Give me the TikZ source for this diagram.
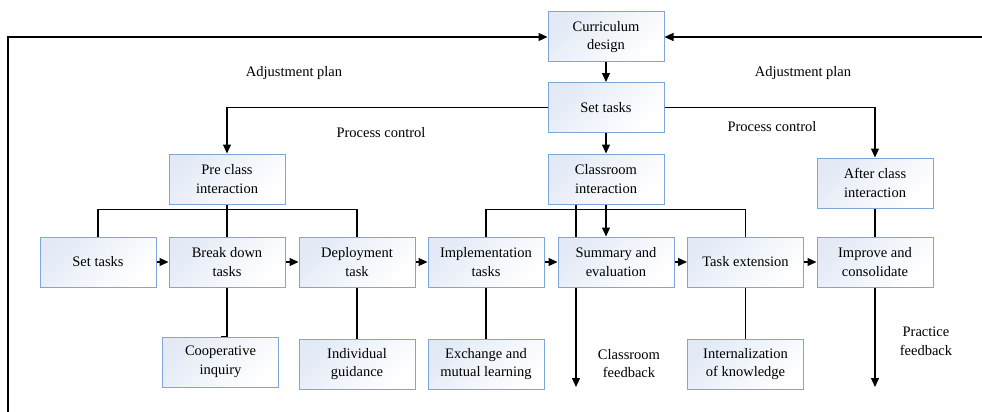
\documentclass[tikz,border=0pt]{standalone}
\usepackage{fontspec}
\setmainfont{Liberation Serif}
\usetikzlibrary{arrows.meta}
\definecolor{boxborder}{HTML}{7DA7D9}
\definecolor{boxblue}{HTML}{E3EAF6}
\begin{document}
\begin{tikzpicture}[x=1pt,y=-1pt,
  box/.style={draw=boxborder, line width=1pt, top color=boxblue, bottom color=white, shading angle=45,
    minimum width=116pt, minimum height=50pt, inner sep=1pt, align=center,
    font=\fontsize{14.5}{18.5}\selectfont},
  lbl/.style={align=center, inner sep=0pt, font=\fontsize{14.5}{18.5}\selectfont},
  conn/.style={line width=1.2pt, black},
  arr/.style={conn, -{Triangle[length=9pt,width=8pt]}}]
\useasboundingbox (0,0) rectangle (982,412);
% boxes
\node[box] (cd) at (606,37) {Curriculum\\design};
\node[box] (st) at (606,107.5) {Set tasks};
\node[box] (ci) at (606,179) {Classroom\\interaction};
\node[box] (pc) at (227,179) {Pre class\\interaction};
\node[box] (ac) at (875,183) {After class\\interaction};
\node[box] (s2) at (98,262) {Set tasks};
\node[box] (bd) at (227,262) {Break down\\tasks};
\node[box] (dt) at (357,262) {Deployment\\task};
\node[box] (it) at (486,262) {Implementation\\tasks};
\node[box] (se) at (616,262) {Summary and\\evaluation};
\node[box] (te) at (745.5,262) {Task extension};
\node[box] (ic) at (875,262) {Improve and\\consolidate};
\node[box] (co) at (220.5,362) {Cooperative\\inquiry};
\node[box] (ig) at (357,364) {Individual\\guidance};
\node[box] (em) at (486,364) {Exchange and\\mutual learning};
\node[box] (ik) at (745.5,364) {Internalization\\of knowledge};
% labels
\node[lbl] (l1) at (294,73) {Adjustment plan};
\node[lbl] (l2) at (803,73) {Adjustment plan};
\node[lbl] (l3) at (381,133) {Process control};
\node[lbl] (l4) at (772,127) {Process control};
\node[lbl] (l5) at (629,363.5) {Classroom\\feedback};
\node[lbl] (l6) at (926,341.5) {Practice\\feedback};
% outer loop
\coordinate (lb) at (8,412);
\coordinate (rb) at (982,37);
\draw[arr] (lb) |- (cd.west);
\draw[arr] (rb) -- (cd.east);
% top chain
\draw[arr] (cd) -- (st);
\draw[arr] (st) -- (ci);
\draw[arr] (st.west) -| (pc.north);
\draw[arr] (st.east) -| (ac.north);
% left bus
\draw[conn] (pc.south) -- (bd.north);
\draw[conn] (s2.north) -- ++(0,-27) -| (dt.north);
% middle bus
\draw[conn] (it.north) -- ++(0,-27) -| (te.north);
\draw[arr] (ci.south) -- (ci.south |- se.north);
\coordinate (cf) at ([xshift=-30pt]ci.south);
\draw[conn] (cf) -- (cf |- se.north);
\coordinate (cfb) at (cf |- se.south);
\coordinate (cfe) at (576,387);
\draw[arr] (cfb) -- (cfe);
% right column
\draw[conn] (ac) -- (ic);
\coordinate (pfe) at (875,387);
\draw[arr] (ic.south) -- (pfe);
% row arrows
\draw[arr] (s2) -- (bd);
\draw[arr] (bd) -- (dt);
\draw[arr] (dt) -- (it);
\draw[arr] (it) -- (se);
\draw[arr] (se) -- (te);
\draw[arr] (te) -- (ic);
% row 3 links
\draw[conn] (bd.south) -- ++(0,49) -| (co.north);
\draw[conn] (dt) -- (ig);
\draw[conn] (it) -- (em);
\draw[conn] (te) -- (ik);
\end{tikzpicture}
\end{document}
